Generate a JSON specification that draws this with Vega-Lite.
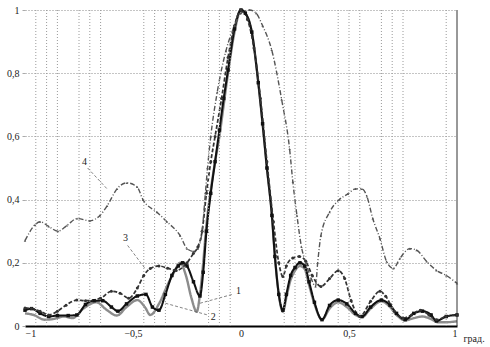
{
  "$schema": "https://vega.github.io/schema/vega-lite/v6.json",
  "width": 432,
  "height": 316,
  "autosize": {"type": "none"},
  "padding": {"left": 25, "top": 10, "right": 33, "bottom": 21},
  "background": "white",
  "config": {
    "view": {"stroke": null},
    "font": "Liberation Serif",
    "axisX": {
      "grid": false, "domain": true, "domainColor": "#000", "domainWidth": 2,
      "ticks": false, "labelPadding": 2, "zindex": 1,
      "labelFont": "Liberation Serif", "labelFontSize": 10, "labelColor": "#222",
      "titleFont": "Liberation Serif", "titleFontSize": 10, "titleColor": "#222", "titleFontWeight": "normal"
    },
    "axisY": {
      "grid": true, "gridDash": [1, 2], "gridColor": "#8a8a8a",
      "domain": false, "ticks": true, "tickSize": 3, "tickColor": "#aaa",
      "labelFont": "Liberation Serif", "labelFontSize": 10, "labelColor": "#222", "labelPadding": 3
    }
  },
  "datasets": {
    "grid": [
      {"x": -0.95}, {"x": -0.9}, {"x": -0.85}, {"x": -0.75}, {"x": -0.7}, {"x": -0.65},
      {"x": -0.45}, {"x": -0.4}, {"x": -0.35}, {"x": -0.15}, {"x": -0.1}, {"x": -0.05},
      {"x": 0.2}, {"x": 0.25}, {"x": 0.3}, {"x": 0.45}, {"x": 0.5}, {"x": 0.55},
      {"x": 0.65}, {"x": 0.7}, {"x": 0.75}, {"x": 0.95}
    ],
    "border": [{"x": 1}],
    "labels": [
      {"t": "1", "x": -0.012, "y": 0.11},
      {"t": "2", "x": -0.128, "y": 0.03},
      {"t": "3", "x": -0.535, "y": 0.28},
      {"t": "4", "x": -0.725, "y": 0.52}
    ],
    "leaders": [
      {"x": -0.19, "y": 0.072, "x2": -0.04, "y2": 0.1},
      {"x": -0.35, "y": 0.072, "x2": -0.155, "y2": 0.035},
      {"x": -0.525, "y": 0.255, "x2": -0.444, "y2": 0.182},
      {"x": -0.71, "y": 0.5, "x2": -0.62, "y2": 0.434}
    ],
    "curves": [
      {"s":"1","x":-1,"y":0.04},{"s":"1","x":-0.96,"y":0.035},{"s":"1","x":-0.91,"y":0.02},{"s":"1","x":-0.87,"y":0.022},{"s":"1","x":-0.82,"y":0.03},{"s":"1","x":-0.78,"y":0.025},{"s":"1","x":-0.73,"y":0.055},{"s":"1","x":-0.67,"y":0.075},{"s":"1","x":-0.62,"y":0.05},{"s":"1","x":-0.575,"y":0.033},{"s":"1","x":-0.53,"y":0.06},{"s":"1","x":-0.48,"y":0.082},{"s":"1","x":-0.445,"y":0.06},{"s":"1","x":-0.42,"y":0.035},{"s":"1","x":-0.38,"y":0.07},{"s":"1","x":-0.34,"y":0.13},{"s":"1","x":-0.31,"y":0.17},{"s":"1","x":-0.282,"y":0.2},{"s":"1","x":-0.255,"y":0.16},{"s":"1","x":-0.23,"y":0.09},{"s":"1","x":-0.205,"y":0.045},{"s":"1","x":-0.19,"y":0.1},{"s":"1","x":-0.175,"y":0.2},{"s":"1","x":-0.16,"y":0.32},{"s":"1","x":-0.14,"y":0.43},{"s":"1","x":-0.12,"y":0.52},{"s":"1","x":-0.1,"y":0.6},{"s":"1","x":-0.08,"y":0.7},{"s":"1","x":-0.06,"y":0.8},{"s":"1","x":-0.03,"y":0.93},{"s":"1","x":0,"y":1},{"s":"1","x":0.02,"y":0.99},{"s":"1","x":0.05,"y":0.93},{"s":"1","x":0.08,"y":0.77},{"s":"1","x":0.1,"y":0.64},{"s":"1","x":0.12,"y":0.5},{"s":"1","x":0.143,"y":0.35},{"s":"1","x":0.157,"y":0.22},{"s":"1","x":0.175,"y":0.1},{"s":"1","x":0.194,"y":0.045},{"s":"1","x":0.21,"y":0.09},{"s":"1","x":0.227,"y":0.14},{"s":"1","x":0.25,"y":0.175},{"s":"1","x":0.273,"y":0.19},{"s":"1","x":0.295,"y":0.18},{"s":"1","x":0.315,"y":0.13},{"s":"1","x":0.34,"y":0.07},{"s":"1","x":0.375,"y":0.02},{"s":"1","x":0.41,"y":0.055},{"s":"1","x":0.45,"y":0.075},{"s":"1","x":0.49,"y":0.06},{"s":"1","x":0.53,"y":0.035},{"s":"1","x":0.56,"y":0.028},{"s":"1","x":0.6,"y":0.055},{"s":"1","x":0.65,"y":0.078},{"s":"1","x":0.69,"y":0.06},{"s":"1","x":0.72,"y":0.035},{"s":"1","x":0.76,"y":0.018},{"s":"1","x":0.8,"y":0.025},{"s":"1","x":0.84,"y":0.03},{"s":"1","x":0.88,"y":0.022},{"s":"1","x":0.91,"y":0.012},{"s":"1","x":0.95,"y":0.012},{"s":"1","x":1,"y":0.015},

      {"s":"2","x":-1,"y":0.05},{"s":"2","x":-0.97,"y":0.055},{"s":"2","x":-0.93,"y":0.04},{"s":"2","x":-0.89,"y":0.03},{"s":"2","x":-0.85,"y":0.033},{"s":"2","x":-0.8,"y":0.033},{"s":"2","x":-0.76,"y":0.035},{"s":"2","x":-0.72,"y":0.068},{"s":"2","x":-0.68,"y":0.08},{"s":"2","x":-0.64,"y":0.08},{"s":"2","x":-0.6,"y":0.06},{"s":"2","x":-0.57,"y":0.047},{"s":"2","x":-0.53,"y":0.07},{"s":"2","x":-0.48,"y":0.095},{"s":"2","x":-0.44,"y":0.1},{"s":"2","x":-0.41,"y":0.06},{"s":"2","x":-0.38,"y":0.05},{"s":"2","x":-0.35,"y":0.1},{"s":"2","x":-0.32,"y":0.16},{"s":"2","x":-0.29,"y":0.19},{"s":"2","x":-0.27,"y":0.2},{"s":"2","x":-0.25,"y":0.19},{"s":"2","x":-0.22,"y":0.14},{"s":"2","x":-0.19,"y":0.095},{"s":"2","x":-0.175,"y":0.17},{"s":"2","x":-0.16,"y":0.3},{"s":"2","x":-0.14,"y":0.42},{"s":"2","x":-0.12,"y":0.52},{"s":"2","x":-0.1,"y":0.62},{"s":"2","x":-0.08,"y":0.72},{"s":"2","x":-0.06,"y":0.81},{"s":"2","x":-0.03,"y":0.94},{"s":"2","x":0,"y":1},{"s":"2","x":0.02,"y":0.99},{"s":"2","x":0.05,"y":0.93},{"s":"2","x":0.08,"y":0.77},{"s":"2","x":0.1,"y":0.64},{"s":"2","x":0.12,"y":0.5},{"s":"2","x":0.143,"y":0.35},{"s":"2","x":0.157,"y":0.22},{"s":"2","x":0.175,"y":0.1},{"s":"2","x":0.194,"y":0.05},{"s":"2","x":0.21,"y":0.1},{"s":"2","x":0.23,"y":0.16},{"s":"2","x":0.25,"y":0.185},{"s":"2","x":0.273,"y":0.2},{"s":"2","x":0.295,"y":0.19},{"s":"2","x":0.315,"y":0.14},{"s":"2","x":0.34,"y":0.075},{"s":"2","x":0.375,"y":0.02},{"s":"2","x":0.41,"y":0.065},{"s":"2","x":0.45,"y":0.082},{"s":"2","x":0.49,"y":0.07},{"s":"2","x":0.53,"y":0.04},{"s":"2","x":0.56,"y":0.03},{"s":"2","x":0.6,"y":0.06},{"s":"2","x":0.65,"y":0.082},{"s":"2","x":0.69,"y":0.066},{"s":"2","x":0.72,"y":0.04},{"s":"2","x":0.76,"y":0.02},{"s":"2","x":0.8,"y":0.04},{"s":"2","x":0.84,"y":0.047},{"s":"2","x":0.88,"y":0.035},{"s":"2","x":0.905,"y":0.016},{"s":"2","x":0.95,"y":0.03},{"s":"2","x":1,"y":0.035},

      {"s":"3","x":-1,"y":0.057},{"s":"3","x":-0.97,"y":0.055},{"s":"3","x":-0.93,"y":0.047},{"s":"3","x":-0.89,"y":0.035},{"s":"3","x":-0.85,"y":0.047},{"s":"3","x":-0.81,"y":0.066},{"s":"3","x":-0.76,"y":0.082},{"s":"3","x":-0.72,"y":0.08},{"s":"3","x":-0.65,"y":0.088},{"s":"3","x":-0.6,"y":0.11},{"s":"3","x":-0.56,"y":0.104},{"s":"3","x":-0.52,"y":0.088},{"s":"3","x":-0.48,"y":0.12},{"s":"3","x":-0.45,"y":0.16},{"s":"3","x":-0.42,"y":0.182},{"s":"3","x":-0.38,"y":0.19},{"s":"3","x":-0.34,"y":0.183},{"s":"3","x":-0.3,"y":0.176},{"s":"3","x":-0.25,"y":0.2},{"s":"3","x":-0.22,"y":0.23},{"s":"3","x":-0.2,"y":0.25},{"s":"3","x":-0.18,"y":0.3},{"s":"3","x":-0.16,"y":0.42},{"s":"3","x":-0.14,"y":0.52},{"s":"3","x":-0.12,"y":0.6},{"s":"3","x":-0.09,"y":0.72},{"s":"3","x":-0.06,"y":0.85},{"s":"3","x":-0.03,"y":0.95},{"s":"3","x":0,"y":1},{"s":"3","x":0.03,"y":0.97},{"s":"3","x":0.06,"y":0.88},{"s":"3","x":0.09,"y":0.72},{"s":"3","x":0.12,"y":0.52},{"s":"3","x":0.15,"y":0.33},{"s":"3","x":0.175,"y":0.2},{"s":"3","x":0.194,"y":0.157},{"s":"3","x":0.21,"y":0.19},{"s":"3","x":0.24,"y":0.215},{"s":"3","x":0.27,"y":0.22},{"s":"3","x":0.3,"y":0.205},{"s":"3","x":0.33,"y":0.16},{"s":"3","x":0.37,"y":0.125},{"s":"3","x":0.41,"y":0.15},{"s":"3","x":0.45,"y":0.175},{"s":"3","x":0.48,"y":0.15},{"s":"3","x":0.51,"y":0.08},{"s":"3","x":0.55,"y":0.03},{"s":"3","x":0.6,"y":0.078},{"s":"3","x":0.643,"y":0.11},{"s":"3","x":0.67,"y":0.094},{"s":"3","x":0.71,"y":0.047},{"s":"3","x":0.75,"y":0.025},{"s":"3","x":0.79,"y":0.035},{"s":"3","x":0.83,"y":0.05},{"s":"3","x":0.87,"y":0.035},{"s":"3","x":0.905,"y":0.02},{"s":"3","x":0.95,"y":0.03},{"s":"3","x":1,"y":0.035},

      {"s":"4","x":-1,"y":0.27},{"s":"4","x":-0.954,"y":0.32},{"s":"4","x":-0.93,"y":0.33},{"s":"4","x":-0.89,"y":0.315},{"s":"4","x":-0.847,"y":0.3},{"s":"4","x":-0.806,"y":0.318},{"s":"4","x":-0.759,"y":0.34},{"s":"4","x":-0.7,"y":0.333},{"s":"4","x":-0.653,"y":0.35},{"s":"4","x":-0.62,"y":0.38},{"s":"4","x":-0.574,"y":0.434},{"s":"4","x":-0.528,"y":0.453},{"s":"4","x":-0.481,"y":0.44},{"s":"4","x":-0.454,"y":0.4},{"s":"4","x":-0.389,"y":0.36},{"s":"4","x":-0.343,"y":0.33},{"s":"4","x":-0.282,"y":0.286},{"s":"4","x":-0.25,"y":0.245},{"s":"4","x":-0.22,"y":0.236},{"s":"4","x":-0.2,"y":0.245},{"s":"4","x":-0.18,"y":0.3},{"s":"4","x":-0.165,"y":0.42},{"s":"4","x":-0.155,"y":0.5},{"s":"4","x":-0.14,"y":0.6},{"s":"4","x":-0.11,"y":0.74},{"s":"4","x":-0.07,"y":0.87},{"s":"4","x":-0.03,"y":0.95},{"s":"4","x":0,"y":0.99},{"s":"4","x":0.04,"y":1},{"s":"4","x":0.07,"y":0.99},{"s":"4","x":0.1,"y":0.95},{"s":"4","x":0.142,"y":0.874},{"s":"4","x":0.188,"y":0.717},{"s":"4","x":0.225,"y":0.56},{"s":"4","x":0.24,"y":0.456},{"s":"4","x":0.259,"y":0.35},{"s":"4","x":0.28,"y":0.25},{"s":"4","x":0.3,"y":0.2},{"s":"4","x":0.325,"y":0.15},{"s":"4","x":0.345,"y":0.125},{"s":"4","x":0.355,"y":0.2},{"s":"4","x":0.37,"y":0.286},{"s":"4","x":0.41,"y":0.36},{"s":"4","x":0.455,"y":0.4},{"s":"4","x":0.495,"y":0.418},{"s":"4","x":0.53,"y":0.434},{"s":"4","x":0.56,"y":0.434},{"s":"4","x":0.583,"y":0.41},{"s":"4","x":0.61,"y":0.34},{"s":"4","x":0.643,"y":0.277},{"s":"4","x":0.674,"y":0.204},{"s":"4","x":0.705,"y":0.182},{"s":"4","x":0.736,"y":0.214},{"s":"4","x":0.782,"y":0.245},{"s":"4","x":0.813,"y":0.24},{"s":"4","x":0.86,"y":0.204},{"s":"4","x":0.905,"y":0.176},{"s":"4","x":0.95,"y":0.16},{"s":"4","x":1,"y":0.135}
    ]
  },
  "layer": [
    {
      "data": {"name": "curves"},
      "mark": {"type": "line", "interpolate": "monotone"},
      "encoding": {
        "x": {
          "field": "x", "type": "quantitative",
          "scale": {"domain": [-1, 1], "nice": false, "zero": false},
          "axis": {
            "values": [-1, -0.5, 0, 0.5, 1],
            "format": "~g",
            "labelExpr": "replace(datum.label, '.', ',')",
            "title": "град.", "titleX": 438, "titleY": 12, "titleAlign": "left",
            "titleBaseline": "middle"
          }
        },
        "y": {
          "field": "y", "type": "quantitative",
          "scale": {"domain": [0, 1], "nice": false},
          "axis": {
            "values": [0, 0.2, 0.4, 0.6, 0.8, 1],
            "format": "~g",
            "labelExpr": "replace(datum.label, '.', ',')",
            "title": null
          }
        },
        "detail": {"field": "s"},
        "color": {"field": "s", "type": "nominal", "scale": {"domain": ["1", "2", "3", "4"], "range": ["#8c8c8c", "#111111", "#333333", "#555555"]}, "legend": null},
        "strokeWidth": {"field": "s", "type": "nominal", "scale": {"domain": ["1", "2", "3", "4"], "range": [2.4, 1.4, 1.1, 0.9]}, "legend": null},
        "strokeDash": {"field": "s", "type": "nominal", "scale": {"domain": ["1", "2", "3", "4"], "range": [[1, 0], [1, 0], [4, 2], [5, 2, 1, 2]]}, "legend": null}
      }
    },
    {
      "data": {"name": "grid"},
      "mark": {"type": "rule", "color": "#9a9a9a", "strokeDash": [1, 2], "strokeWidth": 1},
      "encoding": {
        "x": {"field": "x", "type": "quantitative"}
      }
    },
    {
      "data": {"name": "border"},
      "mark": {"type": "rule", "color": "#333", "strokeWidth": 1},
      "encoding": {
        "x": {"field": "x", "type": "quantitative"}
      }
    },
    {
      "data": {"name": "curves"},
      "transform": [{"filter": "datum.s != '1'"}],
      "mark": {"type": "point", "filled": true, "opacity": 1},
      "encoding": {
        "x": {"field": "x", "type": "quantitative"},
        "y": {"field": "y", "type": "quantitative"},
        "shape": {"field": "s", "type": "nominal", "scale": {"domain": ["2", "3", "4"], "range": ["square", "circle", "triangle-up"]}, "legend": null},
        "size": {"field": "s", "type": "nominal", "scale": {"domain": ["2", "3", "4"], "range": [12, 6, 7]}, "legend": null},
        "color": {"field": "s", "type": "nominal", "legend": null}
      }
    },
    {
      "data": {"name": "leaders"},
      "mark": {"type": "rule", "color": "#666", "strokeWidth": 0.8, "strokeDash": [3, 2]},
      "encoding": {
        "x": {"field": "x", "type": "quantitative"},
        "y": {"field": "y", "type": "quantitative"},
        "x2": {"field": "x2"},
        "y2": {"field": "y2"}
      }
    },
    {
      "data": {"name": "labels"},
      "mark": {"type": "text", "font": "Liberation Serif", "fontSize": 10, "fill": "#222"},
      "encoding": {
        "x": {"field": "x", "type": "quantitative"},
        "y": {"field": "y", "type": "quantitative"},
        "text": {"field": "t"}
      }
    }
  ]
}
